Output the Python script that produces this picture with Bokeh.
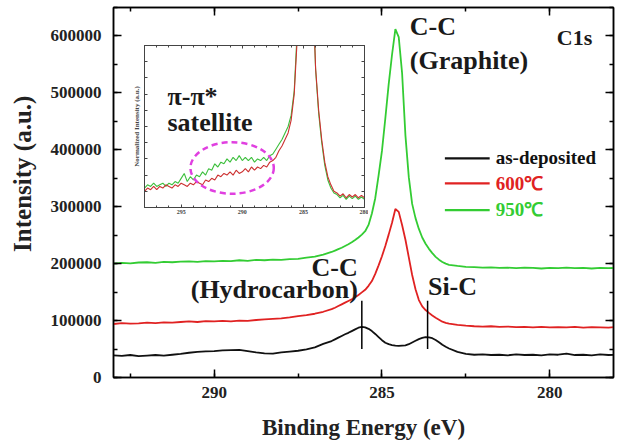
from bokeh.plotting import figure
from bokeh.models import (Range1d, LinearAxis, SingleIntervalTicker, BasicTickFormatter,
                          CustomJSTickFormatter)
from bokeh.layouts import column
from bokeh.embed import file_html
from bokeh.resources import INLINE
from bokeh.core.properties import value

# ---------------- data ----------------
energy = [
    293.0, 292.75, 292.5, 292.25, 292.0, 291.75, 291.5, 291.25, 291.0, 290.75,
    290.5, 290.25, 290.0, 289.75, 289.5, 289.25, 289.0, 288.75, 288.5, 288.25,
    288.0, 287.75, 287.5, 287.25, 287.0, 286.75, 286.5,
    286.4, 286.3, 286.2, 286.1, 286.0, 285.9, 285.8, 285.7, 285.6, 285.5,
    285.4, 285.3, 285.2, 285.1, 285.0, 284.9, 284.8, 284.7, 284.6, 284.5,
    284.4, 284.3, 284.2, 284.1, 284.0, 283.9, 283.8, 283.7, 283.6, 283.5,
    283.4, 283.3, 283.2, 283.1, 283.0,
    282.75, 282.5, 282.25, 282.0, 281.75, 281.5, 281.25, 281.0, 280.75, 280.5,
    280.25, 280.0, 279.75, 279.5, 279.25, 279.0, 278.75, 278.5, 278.25, 278.0,
]

as_deposited = [
    39000, 38000, 39500, 37500, 38500, 39500, 38500, 40000, 41500, 43500,
    45000, 46000, 46500, 47500, 48000, 48500, 46500, 44000, 42500, 42000,
    44000, 45500, 47000, 49500, 53000, 59000, 64000,
    67000, 70000, 73000, 76000, 78500, 81500, 84500, 87500, 89000, 88000,
    85500, 81500, 76500, 71000, 65500, 61000, 58500, 57000, 56000, 55500,
    56000, 56500, 58500, 61500, 64500, 67500, 69500, 71000, 70500, 69000,
    66000, 62000, 57500, 54000, 51000,
    45000, 41500, 40000, 40500, 39500, 40000, 39000, 40500, 39500, 40000,
    39000, 40500, 40000, 42000, 39500, 40000, 39000, 40500, 39500, 40000,
]

annealed_600 = [
    94000, 95500, 94500, 95000, 96500, 95500, 97000, 96500, 97500, 98500,
    97500, 99000, 98500, 99500, 98500, 100000, 99500, 101000, 102000, 103000,
    104000, 105500, 108000, 109500, 112000, 115500, 120000,
    122500, 125500, 128500, 131500, 134500, 137500, 141000, 145000, 149500, 154000,
    161000, 169500, 182000, 197000, 213000, 231000, 251000, 272000, 296000, 291000,
    268000, 242000, 211000, 180000, 155000, 136000, 125000, 118500, 113500, 109000,
    105000, 101500, 98000, 96000, 94500,
    92500, 91000, 90000, 89500, 90000, 89000, 89500, 88500, 89000, 88000,
    89000, 88000, 88500, 88000, 89000, 87500, 88500, 88000, 87500, 89000,
]

annealed_950 = [
    200000, 201500, 200500, 202000, 202500, 201500, 203000, 202500, 203500, 204000,
    203000, 204500, 204000, 205000, 204500, 206000, 205000, 206500, 206000, 207000,
    206500, 208000, 208500, 210500, 212500, 216000, 220500,
    223000, 225500, 228000, 231000, 234000, 237500, 241500, 246000, 251000, 257000,
    268000, 288000, 315000, 355000, 398000, 455000, 515000, 567000, 612000, 598000,
    535000, 425000, 352000, 305000, 280000, 261000, 246000, 235000, 226000, 218500,
    212000, 207000, 203000, 200000, 198000,
    196000, 194500, 194000, 193000, 193500, 192500, 193000, 192000, 193000, 192500,
    191500, 192500, 192000, 193000, 192000, 192500, 191500, 192500, 192000, 192500,
]

# inset: normalized spectra around the pi-pi* satellite
inset_energy = [
    298.0, 297.75, 297.5, 297.25, 297.0, 296.75, 296.5, 296.25,
    296.0, 295.75, 295.5, 295.25, 295.0, 294.75, 294.5, 294.25,
    294.0, 293.75, 293.5, 293.25, 293.0, 292.75, 292.5, 292.25,
    292.0, 291.75, 291.5, 291.25, 291.0, 290.75, 290.5, 290.25,
    290.0, 289.75, 289.5, 289.25, 289.0, 288.75, 288.5, 288.25,
    288.0, 287.75, 287.5, 287.25, 287.0, 286.75, 286.5, 286.25,
    286.0, 285.75, 285.5, 285.25, 285.0, 284.75, 284.5, 284.25,
    284.0, 283.75, 283.5, 283.25, 283.0, 282.75, 282.5, 282.25,
    282.0, 281.75, 281.5, 281.25, 281.0, 280.75, 280.5, 280.25,
    280.0,
]
inset_950 = [
    0.12, 0.14, 0.13, 0.15, 0.13, 0.14, 0.15, 0.13,
    0.15, 0.14, 0.16, 0.15, 0.18, 0.21, 0.16, 0.19,
    0.17, 0.20, 0.19, 0.22, 0.20, 0.24, 0.23, 0.27,
    0.25, 0.28, 0.27, 0.30, 0.28, 0.31, 0.29, 0.32,
    0.29, 0.31, 0.29, 0.31, 0.28, 0.30, 0.29, 0.31,
    0.29, 0.32, 0.33, 0.36, 0.39, 0.42, 0.46, 0.50,
    0.57, 0.72, 1.10, 1.80, 2.40, 2.60, 2.20, 1.40,
    0.85, 0.58, 0.40, 0.26, 0.17, 0.12, 0.09, 0.08,
    0.06, 0.075, 0.05, 0.07, 0.055, 0.07, 0.05, 0.065,
    0.05,
]
inset_600 = [
    0.10, 0.12, 0.11, 0.13, 0.11, 0.13, 0.12, 0.14,
    0.13, 0.12, 0.14, 0.13, 0.15, 0.14, 0.13, 0.15,
    0.14, 0.16, 0.15, 0.14, 0.17, 0.16, 0.18, 0.17,
    0.20, 0.19, 0.21, 0.20, 0.22, 0.20, 0.23, 0.21,
    0.22, 0.24, 0.22, 0.25, 0.23, 0.25, 0.24, 0.26,
    0.25, 0.28, 0.29, 0.31, 0.35, 0.38, 0.42, 0.46,
    0.54, 0.70, 1.05, 1.75, 2.35, 2.55, 2.15, 1.38,
    0.86, 0.60, 0.42, 0.28, 0.19, 0.14, 0.10, 0.09,
    0.07, 0.085, 0.06, 0.08, 0.065, 0.08, 0.06, 0.075,
    0.06,
]

series_labels = ["as-deposited", "600\u2103", "950\u2103"]
peak_marker_energy = [285.60, 283.64]
peak_marker_low = [50000, 50000]
peak_marker_high = [135000, 135000]

# ---------------- styles ----------------
FONT = "Liberation Serif"
BLACK = "#111111"
RED = "#e02222"
GREEN = "#33cc33"
MAGENTA = "#e040e0"
colors = [BLACK, RED, GREEN]
BORDER_L = 113
BORDER_R = 4

# ---------------- main figure ----------------
p = figure(width=617, height=445, x_range=Range1d(293.0, 278.1), y_range=Range1d(0, 650000),
           output_backend="svg", toolbar_location=None,
           min_border_left=BORDER_L, min_border_right=BORDER_R, min_border_top=7, min_border_bottom=68,
           background_fill_color="white", border_fill_color="white")
p.xgrid.visible = False
p.ygrid.visible = False
p.outline_line_color = "black"
p.outline_line_width = 1.5

p.xaxis.ticker = SingleIntervalTicker(interval=5, num_minor_ticks=2)
p.yaxis.ticker = SingleIntervalTicker(interval=100000, num_minor_ticks=2)
p.yaxis.formatter = BasicTickFormatter(use_scientific=False)
p.xaxis.axis_label = "Binding Energy (eV)"
# leading no-break spaces shift the visible label upward, as in the reference
p.yaxis.axis_label = "\u00a0" * 6 + "Intensity (a.u.)"

for ax in [p.xaxis[0], p.yaxis[0]]:
    ax.major_tick_in = 8
    ax.major_tick_out = 0
    ax.minor_tick_in = 4
    ax.minor_tick_out = 0
    ax.axis_line_width = 1.5
    ax.major_tick_line_width = 1.5
    ax.minor_tick_line_width = 1.5
    ax.major_label_text_font = FONT
    ax.major_label_text_font_style = "bold"
    ax.major_label_text_font_size = "17px"
    ax.major_label_text_color = "#222222"
    ax.axis_label_text_font = FONT
    ax.axis_label_text_font_style = "bold"
    ax.axis_label_text_color = "#222222"
p.xaxis.axis_label_text_font_size = "23px"
p.yaxis.axis_label_text_font_size = "25px"
p.yaxis.major_label_standoff = 12
p.yaxis.axis_label_standoff = 12
p.xaxis.major_label_standoff = 9
p.xaxis.axis_label_standoff = 14

blank = CustomJSTickFormatter(code="return ''")
top_ax = LinearAxis(ticker=SingleIntervalTicker(interval=5, num_minor_ticks=2), formatter=blank,
                    major_tick_in=8, major_tick_out=0, minor_tick_in=4, minor_tick_out=0,
                    major_label_standoff=0, axis_line_width=1.5, major_tick_line_width=1.5,
                    minor_tick_line_width=1.5)
right_ax = LinearAxis(ticker=SingleIntervalTicker(interval=100000, num_minor_ticks=2), formatter=blank,
                      major_tick_in=8, major_tick_out=0, minor_tick_in=4, minor_tick_out=0,
                      major_label_standoff=0, axis_line_width=1.5, major_tick_line_width=1.5,
                      minor_tick_line_width=1.5)
p.add_layout(top_ax, "above")
p.add_layout(right_ax, "right")

for ys, c in zip([as_deposited, annealed_600, annealed_950], colors):
    p.line(energy, ys, line_color=c, line_width=1.8)

p.segment(x0=peak_marker_energy, y0=peak_marker_low, x1=peak_marker_energy, y1=peak_marker_high,
          line_color="black", line_width=1.5)

# annotations
p.text(x=[284.17, 284.17, 283.63], y=[616000, 557500, 159000], text=["C-C", "(Graphite)", "Si-C"],
       text_font=value(FONT), text_font_style="bold", text_font_size="26px",
       text_align="left", text_baseline="alphabetic", text_color="#1a1a1a")
p.text(x=[285.72, 285.72], y=[193600, 155400], text=["C-C", "(Hydrocarbon)"],
       text_font=value(FONT), text_font_style="bold", text_font_size="26px",
       text_align="right", text_baseline="alphabetic", text_color="#1a1a1a")
p.text(x=[279.79], y=[598000], text=["C1s"],
       text_font=value(FONT), text_font_style="bold", text_font_size="22px",
       text_align="left", text_baseline="alphabetic", text_color="#1a1a1a")

# legend drawn by hand (coloured labels)
leg_line_y = [385000, 341000, 294000]
leg_text_y = [386000, 340000, 294500]
p.segment(x0=[283.125] * 3, x1=[281.79] * 3, y0=leg_line_y, y1=leg_line_y,
          line_color=colors, line_width=2.2)
p.text(x=[281.61] * 3, y=leg_text_y, text=series_labels, text_color=colors,
       text_font=value(FONT), text_font_style="bold", text_font_size="19px",
       text_align="left", text_baseline="alphabetic")

# ---------------- inset figure ----------------
# the column aligns the inset's side borders with the main plot's, so its left
# border equals BORDER_L; that border is transparent and the figure is shifted left.
INSET_FRAME_W, INSET_FRAME_H = 220, 162
inset = figure(width=BORDER_L + INSET_FRAME_W + BORDER_R, height=1 + INSET_FRAME_H + 14,
               x_range=Range1d(298, 280), y_range=Range1d(0, 1),
               output_backend="svg", toolbar_location=None,
               min_border_left=BORDER_L, min_border_right=BORDER_R, min_border_top=1, min_border_bottom=14,
               background_fill_color="white", border_fill_color=None,
               styles={"position": "absolute", "left": f"{144 - BORDER_L}px", "top": "44px"})
inset.xgrid.visible = False
inset.ygrid.visible = False
inset.outline_line_color = "#444444"
inset.outline_line_width = 1
inset.xaxis.ticker = SingleIntervalTicker(interval=5, num_minor_ticks=5)
inset.yaxis.ticker = SingleIntervalTicker(interval=0.1, num_minor_ticks=0)
inset.yaxis.formatter = CustomJSTickFormatter(code="return ''")
inset.yaxis.axis_label = "Normalized Intensity (a.u.)"
for ax in [inset.xaxis[0], inset.yaxis[0]]:
    ax.major_tick_in = 3
    ax.major_tick_out = 0
    ax.minor_tick_in = 2
    ax.minor_tick_out = 0
    ax.axis_line_color = "#444444"
    ax.major_tick_line_color = "#444444"
    ax.minor_tick_line_color = "#444444"
    ax.major_label_text_font = FONT
    ax.major_label_text_font_style = "bold"
    ax.major_label_text_font_size = "6px"
    ax.axis_label_text_font = FONT
    ax.axis_label_text_font_style = "bold"
    ax.axis_label_text_font_size = "7px"
inset.xaxis.major_label_standoff = 2
inset.yaxis.major_label_standoff = 0
inset.yaxis.axis_label_standoff = 4
for loc, tk in [("above", SingleIntervalTicker(interval=5, num_minor_ticks=5)),
                ("right", SingleIntervalTicker(interval=0.1, num_minor_ticks=0))]:
    inset.add_layout(LinearAxis(ticker=tk, formatter=CustomJSTickFormatter(code="return ''"),
                                major_tick_in=3, major_tick_out=0, minor_tick_in=2, minor_tick_out=0,
                                major_label_standoff=0, axis_line_color="#444444",
                                major_tick_line_color="#444444", minor_tick_line_color="#444444"), loc)

inset.line(inset_energy, inset_950, line_color="#3cbf3c", line_width=1.1)
inset.line(inset_energy, inset_600, line_color="#cc3030", line_width=1.1)
inset.ellipse(x=[290.83], y=[0.244], width=[6.82], height=[0.318], fill_color=None,
              line_color=MAGENTA, line_width=2.5, line_dash="6 4")
inset.text(x=[296.12, 296.12], y=[0.686, 0.522], text=["\u03c0-\u03c0*", "satellite"],
           text_font=value(FONT), text_font_style="bold", text_font_size="26px",
           text_align="left", text_baseline="alphabetic", text_color="#1a1a1a")

layout = column(p, inset)
open("out.html", "w").write(file_html(layout, INLINE))
